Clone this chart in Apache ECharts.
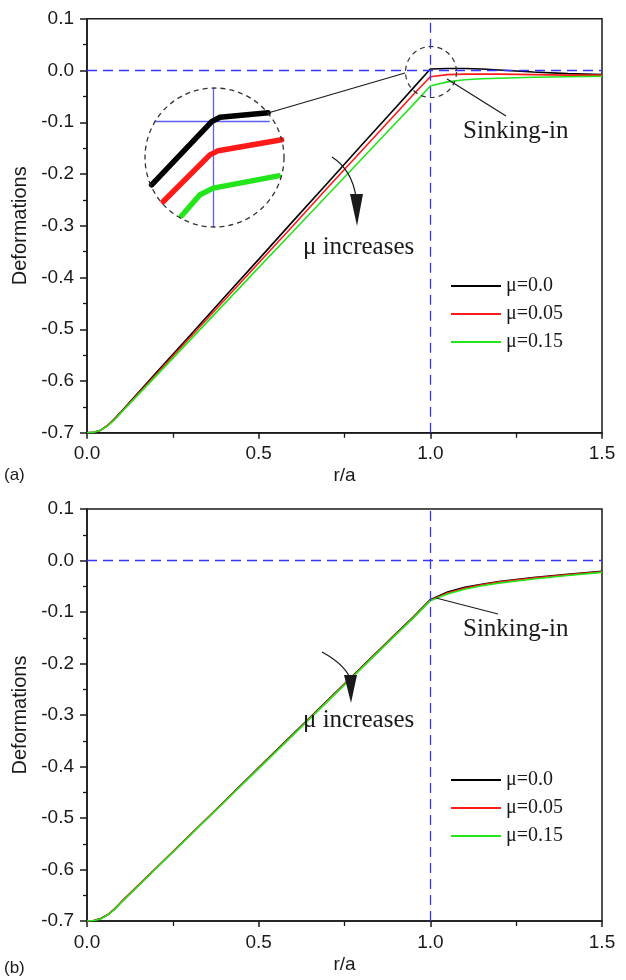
<!DOCTYPE html>
<html><head><meta charset="utf-8">
<script src="https://cdn.jsdelivr.net/npm/echarts@6/dist/echarts.min.js"></script>
<style>html,body{margin:0;padding:0;background:#fff}#c{width:626px;height:980px}</style>
</head><body><div id="c"></div>
<script>
// r/a sample positions
const rA = [0, 0.02, 0.04, 0.06, 0.08, 0.1, 0.2, 0.3, 0.4, 0.5, 0.6, 0.7, 0.8, 0.9, 0.95, 1.0, 1.05, 1.1, 1.15, 1.2, 1.3, 1.4, 1.5];
// panel (a)
const aMu000 = [-0.700,-0.699,-0.695,-0.686,-0.673,-0.659,-0.585,-0.512,-0.438,-0.365,-0.291,-0.218,-0.144,-0.071,-0.034,0.003,0.004,0.004,0.003,0.001,-0.003,-0.006,-0.008];
const aMu005 = [-0.700,-0.699,-0.695,-0.686,-0.674,-0.660,-0.588,-0.516,-0.444,-0.372,-0.300,-0.227,-0.155,-0.083,-0.047,-0.012,-0.008,-0.007,-0.007,-0.007,-0.008,-0.009,-0.009];
const aMu015 = [-0.700,-0.699,-0.695,-0.687,-0.675,-0.661,-0.591,-0.521,-0.451,-0.381,-0.311,-0.241,-0.171,-0.101,-0.066,-0.030,-0.022,-0.018,-0.016,-0.015,-0.013,-0.012,-0.011];
// panel (b)
const bMu000 = [-0.700,-0.699,-0.695,-0.688,-0.677,-0.663,-0.598,-0.533,-0.468,-0.402,-0.337,-0.272,-0.207,-0.142,-0.110,-0.076,-0.061,-0.052,-0.046,-0.041,-0.033,-0.027,-0.021];
const bMu005 = [-0.700,-0.699,-0.695,-0.688,-0.677,-0.663,-0.598,-0.533,-0.468,-0.403,-0.338,-0.273,-0.208,-0.143,-0.111,-0.077,-0.063,-0.054,-0.047,-0.042,-0.034,-0.028,-0.022];
const bMu015 = [-0.700,-0.699,-0.696,-0.688,-0.678,-0.664,-0.599,-0.534,-0.469,-0.404,-0.339,-0.274,-0.209,-0.144,-0.112,-0.078,-0.065,-0.056,-0.049,-0.044,-0.036,-0.029,-0.023];
// magnified inset of panel (a) around r/a = 1
const insetMu000 = [[0.9612,-0.0271],[0.9992,-0.0003],[1.0045,0.0016],[1.035,0.0035]];
const insetMu005 = [[0.9686,-0.0342],[0.9981,-0.0144],[1.0034,-0.0126],[1.0435,-0.0080]];
const insetMu015 = [[0.9802,-0.0402],[0.9918,-0.0313],[1.0002,-0.0285],[1.0414,-0.0233]];
const seriesNames = ['\u03bc=0.0','\u03bc=0.05','\u03bc=0.15'];
const seriesColors = ['#000000','#ff1a1a','#22e61a'];
const yTicks = [-0.7,-0.6,-0.5,-0.4,-0.3,-0.2,-0.1,0.0,0.1];
const xTicks = [0.0,0.5,1.0,1.5];

const SANS = '"Liberation Sans", Arial, sans-serif';
const SERIF = '"Liberation Serif", "Times New Roman", serif';
const INK = '#1a1a1a';
const BLUE = '#3434ff';
const fmt = v => Math.abs(v) < 1e-9 ? '0.0' : v.toFixed(1);

function xAx(gi) {
  return {type:'value', gridIndex:gi, min:xTicks[0], max:xTicks[xTicks.length-1], interval:0.5,
    axisLine:{onZero:false, lineStyle:{color:INK, width:1.5}},
    axisTick:{inside:false, length:6, lineStyle:{color:INK, width:1.5}},
    minorTick:{show:true, splitNumber:2, length:5, lineStyle:{color:INK, width:1.3}},
    splitLine:{show:false},
    axisLabel:{margin:12, fontFamily:SANS, fontSize:19, color:INK, formatter:fmt},
    name:'r/a', nameLocation:'middle', nameGap:34,
    nameTextStyle:{fontFamily:SANS, fontSize:19, color:INK}};
}
function yAx(gi) {
  return {type:'value', gridIndex:gi, min:yTicks[0], max:yTicks[yTicks.length-1], interval:0.1,
    axisLine:{onZero:false, lineStyle:{color:INK, width:1.5}},
    axisTick:{inside:false, length:7, lineStyle:{color:INK, width:1.5}},
    minorTick:{show:true, splitNumber:2, length:4, lineStyle:{color:INK, width:1.3}},
    splitLine:{show:false},
    axisLabel:{margin:13, fontFamily:SANS, fontSize:19, color:INK, formatter:fmt},
    name:'Deformations', nameLocation:'middle', nameGap:56,
    nameTextStyle:{fontFamily:SANS, fontSize:20, color:INK}};
}
function refLines(xi) {
  return {type:'line', xAxisIndex:xi, yAxisIndex:xi, data:[[1.0,0]], symbol:'none',
    lineStyle:{opacity:0}, silent:true, z:1,
    markLine:{silent:true, symbol:'none', label:{show:false}, animation:false,
      lineStyle:{color:BLUE, type:[10,6], width:1.3},
      data:[{yAxis:0},{xAxis:1.0}]}};
}
function mainSeries(gi, arrs) {
  return arrs.map((arr,k) => ({type:'line', name:seriesNames[k], xAxisIndex:gi, yAxisIndex:gi,
    data: rA.map((x,i)=>[x, arr[i]]), symbol:'none', smooth:false, z:2+k,
    lineStyle:{color:seriesColors[k], width:1.6}, itemStyle:{color:seriesColors[k]}}));
}
const insetSeries = [insetMu000, insetMu005, insetMu015].map((d,k) => ({
  type:'line', name:'inset '+k, xAxisIndex:2, yAxisIndex:2, data:d, symbol:'none', z:6,
  lineStyle:{color:seriesColors[k], width:5.5, cap:'round', join:'round'}}));
insetSeries.push({type:'line', xAxisIndex:2, yAxisIndex:2, data:[[1.0,0]], symbol:'none',
  lineStyle:{opacity:0}, silent:true, z:5,
  markLine:{silent:true, symbol:'none', label:{show:false}, animation:false,
    lineStyle:{color:'#5c5cff', type:'solid', width:1.3},
    data:[{xAxis:1.0},[{coord:[0.963,0]},{coord:[1.036,0]}]]}});

function legend(top) {
  return {show:true, orient:'vertical', left:451, top:top, padding:0, itemGap:8,
    itemWidth:50, itemHeight:2, icon:'rect', data:seriesNames,
    textStyle:{fontFamily:SERIF, fontSize:20, color:INK, lineHeight:20}};
}
function arrow(x0,y0,cx,cy,x1,y1,tipY){
  return [
    {type:'bezierCurve', shape:{x1:x0,y1:y0,cpx1:cx,cpy1:cy,x2:x1,y2:y1}, style:{stroke:INK,lineWidth:1.3,fill:null}, z:50},
    {type:'polygon', shape:{points:[[x1-6,y1-3],[x1+7,y1-3],[x1+1,tipY]]}, style:{fill:INK}, z:50}
  ];
}
const T = (text,x,y,size,fam,extra) => Object.assign({type:'text', z:50,
  style:{text, x, y, font:size+'px '+fam, fill:INK, align:'left', verticalAlign:'middle'}}, extra||{});

const chart = echarts.init(document.getElementById('c'), null, {renderer:'canvas'});
chart.setOption({
  animation:false,
  backgroundColor:'#ffffff',
  grid:[
    {left:87, top:18.75, width:515, height:414, show:true, borderColor:INK, borderWidth:1.5, backgroundColor:'transparent'},
    {left:87, top:509, width:515, height:412, show:true, borderColor:INK, borderWidth:1.5, backgroundColor:'transparent'},
    {left:145, top:88, width:139, height:139, show:false}
  ],
  xAxis:[xAx(0), xAx(1), {type:'value', gridIndex:2, min:0.957, max:1.045, show:false}],
  yAxis:[yAx(0), yAx(1), {type:'value', gridIndex:2, min:-0.045, max:0.014, show:false}],
  legend:[legend(276), legend(770)],
  series:[refLines(0), refLines(1)]
    .concat(mainSeries(0,[aMu000,aMu005,aMu015]))
    .concat(mainSeries(1,[bMu000,bMu005,bMu015]))
    .concat(insetSeries),
  graphic:{elements:[
    {type:'circle', shape:{cx:214.5, cy:157.5, r:69.5}, style:{stroke:'#333', lineWidth:1.3, lineDash:[5,4], fill:null}, z:40},
    {type:'circle', shape:{cx:431, cy:72, r:25.5}, style:{stroke:'#333', lineWidth:1.2, lineDash:[5,4], fill:null}, z:40},
    {type:'line', shape:{x1:268, y1:113, x2:405, y2:73}, style:{stroke:INK, lineWidth:1.2}, z:40},
    {type:'line', shape:{x1:447, y1:79, x2:506, y2:116}, style:{stroke:INK, lineWidth:1.2}, z:40},
    T('Sinking-in', 463, 131, 25, SERIF),
    T('\u03bc increases', 303, 247, 25, SERIF),
    ...arrow(332,157, 352,170, 356,197, 226),
    {type:'line', shape:{x1:436, y1:598, x2:498, y2:614}, style:{stroke:INK, lineWidth:1.2}, z:40},
    T('Sinking-in', 463, 629, 25, SERIF),
    ...arrow(322,652, 344,664, 350,678, 703),
    T('\u03bc increases', 303, 720, 25, SERIF),
    T('(a)', 4, 475, 17, SANS),
    T('(b)', 4, 968, 17, SANS)
  ]}
});
</script></body></html>
